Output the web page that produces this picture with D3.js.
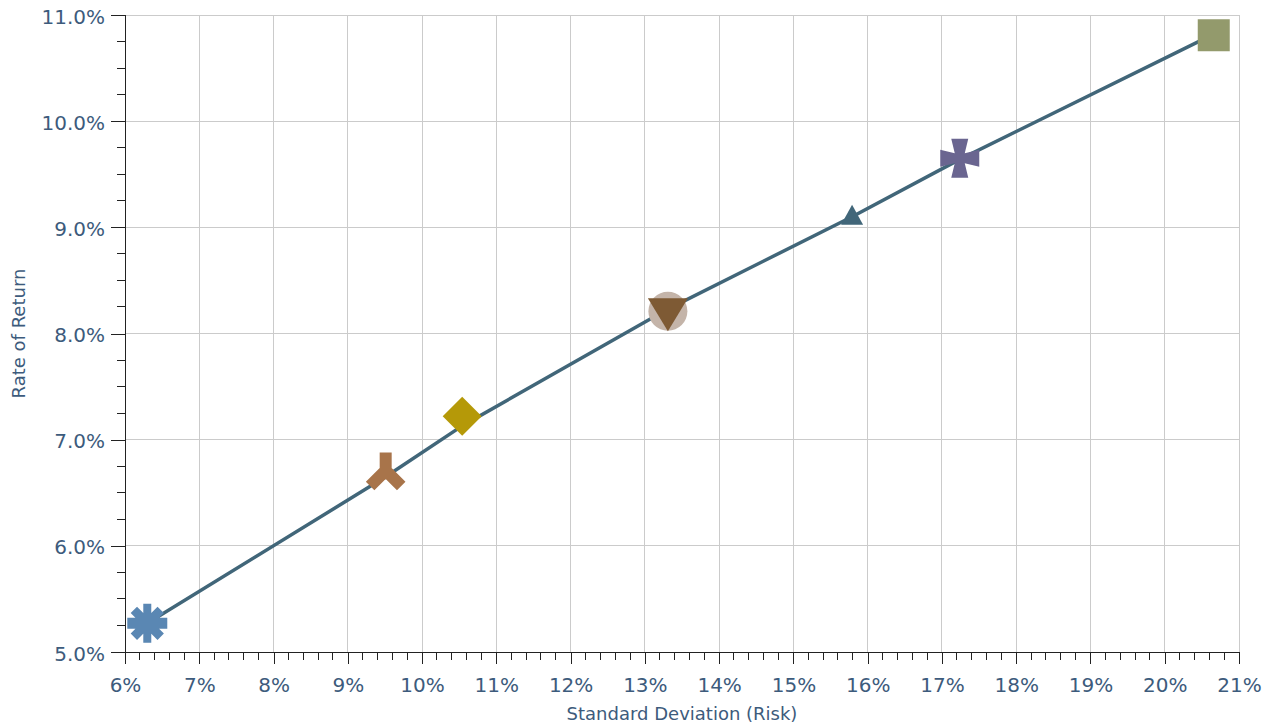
<!DOCTYPE html>
<html>
<head>
<meta charset="utf-8">
<script src="https://cdn.jsdelivr.net/npm/d3@7"></script>
<style>
  html, body { margin: 0; padding: 0; background: #fff; }
  svg { display: block; font-family: "DejaVu Sans", Verdana, sans-serif; }
</style>
</head>
<body>
<svg id="chart" width="1273" height="725"></svg>
<script>
// Efficient frontier: risk (standard deviation, %) vs. expected rate of return (%)
const portfolioNames  = ["Conservative", "Moderately Conservative", "Balanced", "Moderate Growth", "Growth", "Aggressive Growth", "All Equity"];
const portfolioRisk   = [6.30, 9.51, 10.54, 13.31, 15.79, 17.24, 20.66];
const portfolioReturn = [5.27, 6.71, 7.22, 8.21, 9.11, 9.65, 10.81];
const portfolioShape  = ["asterisk", "wye", "diamond", "circleTri", "triangle", "cross", "square"];
const portfolioColor  = ["#5a87b3", "#a8744a", "#b59908", "#7e5a34", "#416679", "#6a6590", "#939a6c"];

// Frontier curve drawn underneath the portfolio markers
const frontierRisk    = [6.30, 9.51, 10.54, 13.31, 15.79, 17.24, 20.66];
const frontierReturn  = [5.27, 6.65, 7.13, 8.23, 9.10, 9.64, 10.82];

const xTicks = [6, 7, 8, 9, 10, 11, 12, 13, 14, 15, 16, 17, 18, 19, 20, 21];
const yTicks = [5, 6, 7, 8, 9, 10, 11];
const xTitle = "Standard Deviation (Risk)";
const yTitle = "Rate of Return";

(function () {
const svg = d3.select("#chart");
const plotLeft = 125, plotRight = 1239, plotTop = 15, plotBottom = 652;
const x = d3.scaleLinear().domain([6, 21]).range([plotLeft, plotRight]);
const y = d3.scaleLinear().domain([5, 11]).range([plotBottom, plotTop]);

const textColor = "#3d5b7c";
const gridColor = "#cbcbcb";
const axisColor = "#222";

// Gridlines
const grid = svg.append("g").attr("shape-rendering", "crispEdges");
grid.selectAll("line.v").data(xTicks.slice(1)).join("line")
  .attr("x1", d => x(d)).attr("x2", d => x(d))
  .attr("y1", plotTop).attr("y2", plotBottom)
  .attr("stroke", gridColor).attr("stroke-width", 1);
grid.selectAll("line.h").data(yTicks.slice(1)).join("line")
  .attr("x1", plotLeft).attr("x2", plotRight)
  .attr("y1", d => y(d)).attr("y2", d => y(d))
  .attr("stroke", gridColor).attr("stroke-width", 1);

// Minor ticks
const xMinor = d3.range(6, 21.001, 0.2).filter(v => Math.abs(v - Math.round(v)) > 1e-6);
const yMinor = d3.range(5, 11.001, 0.25).filter(v => Math.abs(v - Math.round(v)) > 1e-6);

const xAxis = svg.append("g").attr("transform", `translate(0,${plotBottom})`)
  .call(d3.axisBottom(x).tickValues(xTicks).tickSize(12).tickPadding(10)
    .tickFormat(d => d + "%"));
xAxis.append("g").selectAll("line").data(xMinor).join("line")
  .attr("x1", d => x(d)).attr("x2", d => x(d)).attr("y1", 0).attr("y2", 8);

const yAxis = svg.append("g").attr("transform", `translate(${plotLeft},0)`)
  .call(d3.axisLeft(y).tickValues(yTicks).tickSize(14).tickPadding(6)
    .tickFormat(d => d.toFixed(1) + "%"));
yAxis.append("g").selectAll("line").data(yMinor).join("line")
  .attr("y1", d => y(d)).attr("y2", d => y(d)).attr("x1", 0).attr("x2", -8);

[xAxis, yAxis].forEach(g => {
  g.select(".domain").remove();
  g.attr("shape-rendering", "crispEdges");
  g.selectAll("line").attr("stroke", axisColor).attr("stroke-width", 1);
  g.selectAll("text").attr("fill", textColor).attr("font-size", 20)
    .attr("font-family", "DejaVu Sans, Verdana, sans-serif");
});
xAxis.selectAll(".tick text").attr("dy", null).attr("y", 40);
yAxis.selectAll(".tick text").attr("dy", null).attr("y", 8);

// Axis lines
svg.append("line").attr("x1", plotLeft).attr("x2", plotRight).attr("y1", plotBottom).attr("y2", plotBottom)
  .attr("stroke", axisColor).attr("shape-rendering", "crispEdges");
svg.append("line").attr("x1", plotLeft).attr("x2", plotLeft).attr("y1", plotTop).attr("y2", plotBottom)
  .attr("stroke", axisColor).attr("shape-rendering", "crispEdges");

// Axis titles
svg.append("text").attr("x", (plotLeft + plotRight) / 2).attr("y", 720)
  .attr("text-anchor", "middle").attr("font-size", 18).attr("fill", textColor).text(xTitle);
svg.append("text").attr("transform", `translate(25,${(plotTop + plotBottom) / 2}) rotate(-90)`)
  .attr("text-anchor", "middle").attr("font-size", 18).attr("fill", textColor).text(yTitle);

// Frontier line
const frontier = frontierRisk.map((r, i) => [r, frontierReturn[i]]);
svg.append("path").datum(frontier)
  .attr("d", d3.line().x(d => x(d[0])).y(d => y(d[1])))
  .attr("fill", "none").attr("stroke", "#416679").attr("stroke-width", 3.5)
  .attr("stroke-linejoin", "round");

// Marker shapes (centred on 0,0)
function bar(len, w, angle) {
  const a = angle * Math.PI / 180, c = Math.cos(a), s = Math.sin(a);
  const pts = [[-len / 2, -w / 2], [len / 2, -w / 2], [len / 2, w / 2], [-len / 2, w / 2]]
    .map(([px, py]) => [px * c - py * s, px * s + py * c]);
  return "M" + pts.map(p => p.join(",")).join("L") + "Z";
}
function arm(len, w, angle) {
  const a = angle * Math.PI / 180, c = Math.cos(a), s = Math.sin(a);
  const pts = [[0, -w / 2], [len, -w / 2], [len, w / 2], [0, w / 2]]
    .map(([px, py]) => [px * c - py * s, px * s + py * c]);
  return "M" + pts.map(p => p.join(",")).join("L") + "Z";
}
const shapes = {
  asterisk: () => bar(40, 11, 0) + bar(39, 8, 90) + bar(38, 9, 45) + bar(38, 9, -45),
  wye: () => arm(18, 12, -90) + arm(22, 12, 135) + arm(22, 12, 45) + "M-6,-6L6,-6L6,4L0,9L-6,4Z",
  diamond: () => "M0,-19.5L19.5,0L0,19.5L-19.5,0Z",
  triangle: () => "M0,-11L11,9L-11,9Z",
  square: () => "M-16,-16L16,-16L16,16L-16,16Z",
  cross: () => {
    const n = 5, w = 8.5, L = 19.5;
    return `M${-n},${-n}L${-w},${-L}L${w},${-L}L${n},${-n}L${L},${-w}L${L},${w}L${n},${n}` +
      `L${w},${L}L${-w},${L}L${-n},${n}L${-L},${w}L${-L},${-w}Z`;
  }
};

const markers = svg.append("g").selectAll("g").data(portfolioRisk.map((r, i) => ({
  name: portfolioNames[i], risk: r, ret: portfolioReturn[i], shape: portfolioShape[i], color: portfolioColor[i]
}))).join("g")
  .attr("transform", d => `translate(${x(d.risk)},${y(d.ret)})`);

markers.each(function (d) {
  const g = d3.select(this);
  if (d.shape === "circleTri") {
    g.append("circle").attr("r", 19.5).attr("fill", "#c4b4a9");
    g.append("path").attr("d", "M-20,-13L20,-13L0,20Z").attr("fill", d.color);
  } else {
    g.append("path").attr("d", shapes[d.shape]()).attr("fill", d.color);
  }
  g.append("title").text(`${d.name}: ${d.risk}% risk, ${d.ret}% return`);
});
})();
</script>
</body>
</html>
